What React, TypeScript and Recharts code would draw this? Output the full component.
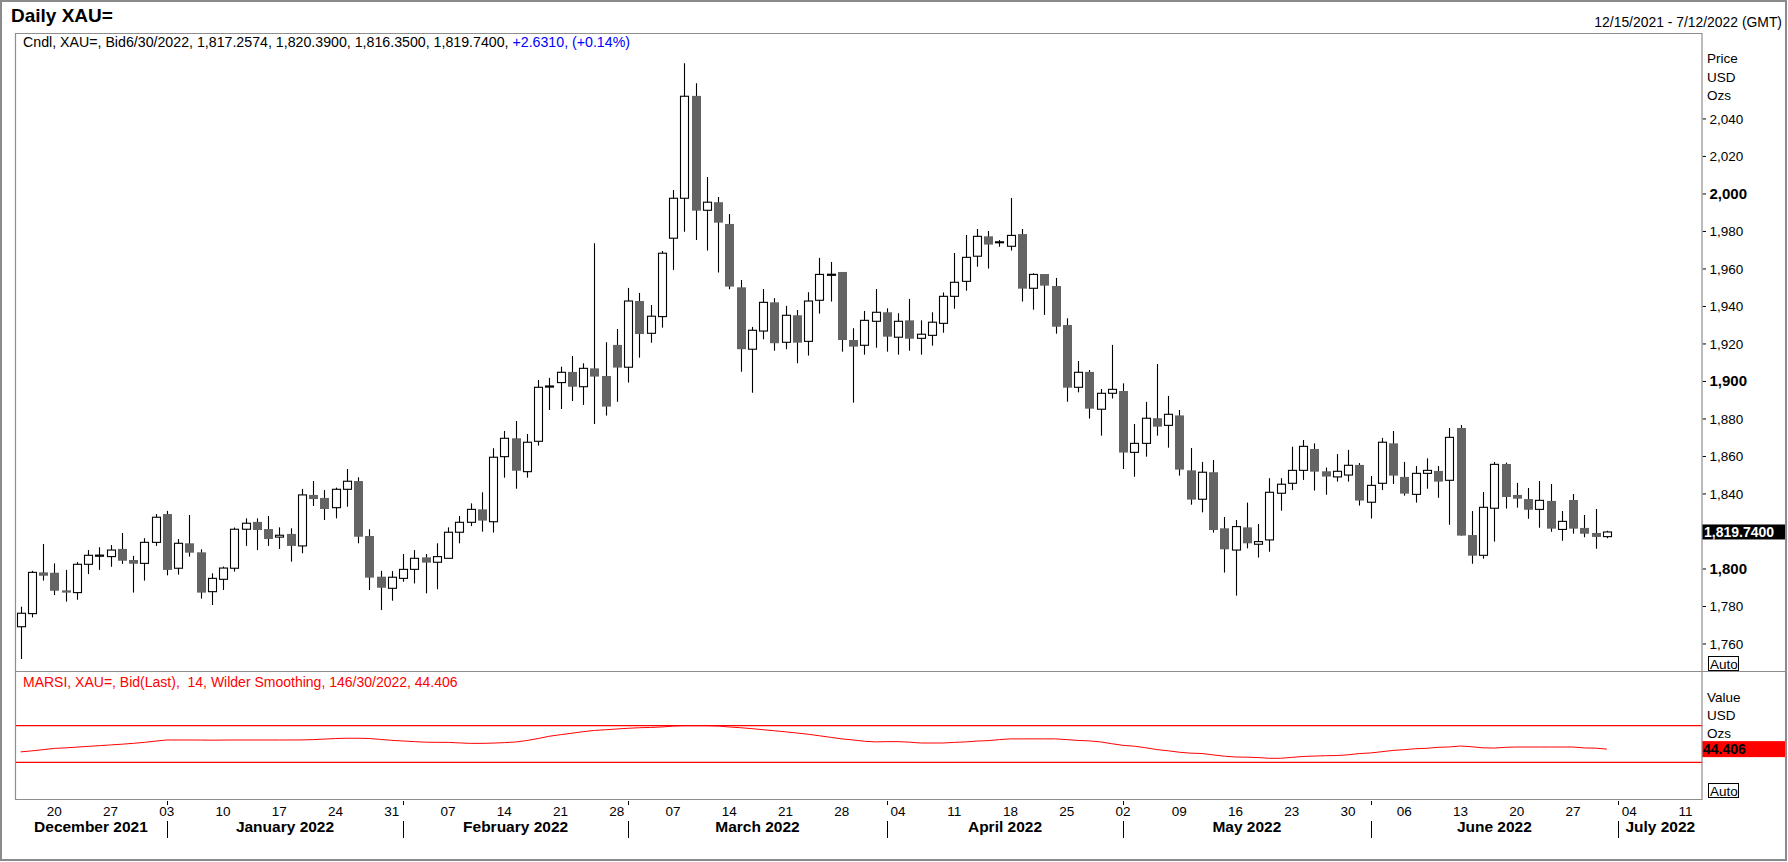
import React from "react";
import { ComposedChart, Bar, Line, XAxis, YAxis, ReferenceLine } from "recharts";

const FONT = '"Liberation Sans", Arial, Helvetica, sans-serif';

// Daily candles, 12/15/2021 .. 6/30/2022 (one entry per trading day)
const opens = [
  1769.2, 1776.2, 1798.2, 1798.0, 1788.6, 1787.4, 1802.5, 1806.8, 1806.6, 1810.7,
  1804.8, 1803.0, 1814.2, 1829.3, 1800.4, 1813.7, 1808.9, 1787.9, 1794.5, 1800.4,
  1821.2, 1825.1, 1821.3, 1817.0, 1818.7, 1812.3, 1839.5, 1837.9, 1832.7, 1842.5,
  1846.9, 1817.6, 1795.9, 1789.7, 1795.0, 1799.8, 1806.2, 1803.6, 1805.7, 1819.6,
  1824.9, 1831.8, 1825.2, 1859.9, 1869.7, 1851.9, 1868.1, 1897.0, 1899.4, 1905.1,
  1897.2, 1907.0, 1902.9, 1919.5, 1907.6, 1942.9, 1925.7, 1934.6, 1976.4, 1997.7,
  2052.3, 1991.3, 1995.6, 1984.0, 1950.2, 1917.2, 1926.9, 1942.2, 1920.9, 1935.3,
  1921.4, 1943.3, 1956.6, 1958.4, 1922.1, 1919.3, 1932.1, 1936.9, 1923.6, 1932.6,
  1923.0, 1924.6, 1931.0, 1945.4, 1953.4, 1966.8, 1977.4, 1974.2, 1972.1, 1978.6,
  1949.7, 1957.3, 1950.9, 1930.1, 1896.9, 1905.1, 1885.2, 1893.7, 1894.9, 1862.2,
  1867.0, 1880.4, 1876.6, 1881.9, 1852.6, 1837.2, 1851.6, 1821.7, 1810.1, 1822.2,
  1813.2, 1815.5, 1840.4, 1845.7, 1852.6, 1864.0, 1852.1, 1849.1, 1850.1, 1855.5,
  1835.6, 1845.7, 1867.0, 1849.1, 1839.8, 1851.0, 1852.3, 1847.3, 1875.2, 1818.1,
  1807.3, 1832.4, 1856.0, 1839.5, 1837.3, 1831.8, 1836.3, 1821.1, 1836.8, 1821.9,
  1819.2, 1817.2574,
];
const highs = [
  1779.9, 1799.0, 1813.3, 1803.0, 1799.5, 1803.7, 1810.1, 1811.6, 1812.8, 1819.2,
  1807.0, 1816.4, 1829.3, 1831.0, 1816.0, 1828.8, 1810.5, 1797.7, 1801.3, 1822.1,
  1827.0, 1827.0, 1828.3, 1822.2, 1821.7, 1842.7, 1846.9, 1842.1, 1843.4, 1853.3,
  1848.9, 1821.2, 1799.0, 1798.9, 1808.0, 1810.1, 1808.0, 1813.7, 1822.2, 1828.3,
  1835.0, 1840.9, 1864.4, 1873.6, 1878.9, 1872.0, 1900.8, 1901.9, 1907.9, 1913.6,
  1909.7, 1973.7, 1920.9, 1928.0, 1949.9, 1947.2, 1940.8, 1969.6, 2002.1, 2069.7,
  2059.0, 2009.1, 1998.4, 1989.3, 1954.1, 1929.1, 1949.3, 1944.4, 1940.3, 1938.1,
  1947.6, 1965.9, 1963.7, 1958.4, 1928.4, 1937.6, 1949.3, 1939.0, 1936.4, 1944.0,
  1932.6, 1936.9, 1947.5, 1968.5, 1978.1, 1981.3, 1980.3, 1975.5, 1997.9, 1981.3,
  1957.7, 1957.3, 1955.2, 1933.7, 1910.9, 1906.1, 1896.0, 1919.5, 1899.0, 1877.3,
  1889.1, 1909.3, 1892.3, 1884.8, 1864.5, 1857.1, 1858.1, 1827.7, 1826.1, 1835.4,
  1824.0, 1848.4, 1848.4, 1865.2, 1868.8, 1867.0, 1854.1, 1861.3, 1863.5, 1856.5,
  1849.6, 1869.9, 1873.6, 1857.1, 1854.9, 1859.0, 1854.9, 1875.2, 1876.8, 1830.9,
  1841.1, 1857.1, 1856.7, 1845.9, 1843.2, 1846.9, 1845.3, 1830.9, 1840.0, 1828.8,
  1832.0, 1820.39,
];
const lows = [
  1752.0, 1774.2, 1793.8, 1786.1, 1782.6, 1783.6, 1797.3, 1799.5, 1801.2, 1802.7,
  1787.4, 1793.8, 1812.3, 1796.6, 1797.0, 1806.6, 1784.2, 1780.8, 1788.8, 1798.6,
  1812.3, 1810.1, 1812.3, 1810.7, 1803.9, 1808.4, 1833.6, 1826.1, 1827.0, 1833.2,
  1813.7, 1788.8, 1778.1, 1783.1, 1793.2, 1792.3, 1787.0, 1789.2, 1805.7, 1813.7,
  1822.9, 1819.9, 1819.4, 1848.7, 1842.8, 1848.7, 1865.8, 1884.8, 1885.3, 1889.6,
  1887.5, 1877.3, 1881.8, 1889.2, 1899.4, 1912.7, 1920.7, 1928.7, 1959.5, 1979.9,
  1975.5, 1969.8, 1958.1, 1949.2, 1905.2, 1894.0, 1922.5, 1916.4, 1917.2, 1909.7,
  1913.8, 1936.2, 1942.6, 1915.9, 1888.7, 1914.3, 1918.0, 1915.9, 1914.3, 1916.4,
  1914.3, 1919.1, 1926.0, 1938.8, 1948.4, 1961.2, 1960.2, 1971.9, 1969.8, 1942.6,
  1938.3, 1935.5, 1925.5, 1889.2, 1894.2, 1880.2, 1871.1, 1890.9, 1853.3, 1849.2,
  1859.9, 1871.1, 1864.7, 1849.8, 1834.3, 1830.2, 1819.4, 1798.1, 1785.8, 1811.0,
  1806.1, 1809.2, 1831.1, 1842.1, 1847.5, 1841.8, 1839.6, 1846.6, 1846.6, 1833.8,
  1826.9, 1842.1, 1845.3, 1839.1, 1835.4, 1842.8, 1838.0, 1823.6, 1817.8, 1802.8,
  1805.5, 1814.6, 1832.2, 1832.7, 1826.8, 1822.0, 1819.9, 1815.1, 1818.8, 1816.9,
  1810.8, 1816.35,
];
const closes = [
  1776.4, 1798.2, 1796.4, 1788.4, 1787.4, 1802.5, 1807.3, 1807.4, 1810.1, 1804.4,
  1802.8, 1814.2, 1827.6, 1799.5, 1813.7, 1808.7, 1787.4, 1795.0, 1800.5, 1821.2,
  1824.4, 1820.8, 1816.0, 1818.0, 1812.3, 1839.5, 1837.3, 1832.0, 1842.5, 1846.8,
  1817.2, 1795.4, 1790.0, 1795.6, 1799.8, 1805.7, 1803.4, 1806.6, 1819.6, 1824.9,
  1831.8, 1825.8, 1859.6, 1869.7, 1852.4, 1867.6, 1896.9, 1897.6, 1904.9, 1897.2,
  1907.0, 1902.6, 1886.6, 1907.4, 1942.9, 1925.3, 1934.8, 1968.4, 1997.7, 2052.1,
  1991.1, 1995.6, 1984.7, 1950.6, 1917.2, 1927.3, 1942.2, 1920.4, 1935.3, 1920.7,
  1942.9, 1957.1, 1957.2, 1922.1, 1918.6, 1932.6, 1936.9, 1923.9, 1932.1, 1922.8,
  1925.2, 1931.6, 1945.4, 1952.9, 1966.2, 1977.4, 1973.0, 1974.5, 1977.9, 1949.5,
  1957.1, 1951.1, 1929.2, 1896.7, 1904.9, 1885.5, 1893.7, 1895.8, 1862.1, 1867.0,
  1880.4, 1875.9, 1882.5, 1853.0, 1837.0, 1851.6, 1820.8, 1810.5, 1822.6, 1813.7,
  1814.6, 1840.9, 1845.2, 1852.6, 1865.4, 1851.9, 1849.3, 1852.1, 1855.3, 1836.5,
  1844.6, 1867.6, 1849.8, 1840.2, 1851.0, 1852.6, 1846.6, 1870.2, 1817.8, 1807.1,
  1832.9, 1855.8, 1838.4, 1837.5, 1831.6, 1836.6, 1821.5, 1825.4, 1821.5, 1818.8,
  1817.1, 1819.74,
];
// MARSI (14, Wilder smoothing)
const rsiValues = [
  41.4, 42.5, 43.8, 45.2, 45.8, 46.6, 47.4, 48.2, 49.0, 49.8,
  50.7, 51.8, 53.2, 54.4, 54.4, 54.4, 54.3, 54.2, 54.3, 54.4,
  54.4, 54.4, 54.4, 54.4, 54.4, 54.5, 54.8, 55.4, 56.0, 56.3,
  56.3, 56.0, 55.0, 54.0, 53.3, 52.6, 52.0, 51.8, 51.8, 51.2,
  50.7, 50.7, 51.0, 51.5, 52.2, 53.8, 56.0, 58.5, 60.2, 61.8,
  63.5, 64.8, 65.6, 66.4, 67.2, 67.8, 68.1, 68.6, 69.6, 70.0,
  70.0, 70.0, 69.6, 68.6, 67.8, 66.8, 65.6, 64.5, 63.3, 62.0,
  60.7, 59.0, 57.3, 55.6, 54.4, 53.0, 52.3, 52.6, 52.6, 52.0,
  51.1, 51.1, 51.1, 51.8, 52.3, 53.2, 53.7, 54.8, 55.6, 55.6,
  55.6, 55.6, 55.6, 54.8, 53.9, 53.4, 52.3, 50.3, 48.5, 47.6,
  45.9, 43.9, 42.6, 41.0, 40.0, 39.6, 38.1, 36.7, 35.8, 35.6,
  35.2, 34.4, 34.4, 35.4, 36.4, 36.8, 37.2, 37.4, 38.2, 39.6,
  40.2, 41.6, 43.0, 43.8, 44.9, 45.3, 46.4, 46.8, 47.8, 47.0,
  45.8, 45.6, 46.4, 46.7, 46.7, 46.7, 46.7, 46.7, 46.7, 45.7,
  45.5, 44.406,
];

// Axis slots: trading days up to 7/12/2022
const TOTAL_SLOTS = 150;
const priceTicks = [1760, 1780, 1800, 1840, 1860, 1880, 1900, 1920, 1940, 1960, 1980, 2000, 2020, 2040];
const mondayIdx = [3, 8, 13, 18, 23, 28, 33, 38, 43, 48, 53, 58, 63, 68, 73, 78, 83, 88, 93, 98, 103, 108, 113, 118, 123, 128, 133, 138, 143, 148];
const mondayLabels = ["20", "27", "03", "10", "17", "24", "31", "07", "14", "21", "28", "07", "14", "21", "28", "04", "11", "18", "25", "02", "09", "16", "23", "30", "06", "13", "20", "27", "04", "11"];
const monthNames = ["December 2021", "January 2022", "February 2022", "March 2022", "April 2022", "May 2022", "June 2022", "July 2022"];
const monthCenters = [6.25, 23.5, 44, 65.5, 87.5, 109, 131, 145.75];
const monthStarts = [13, 34, 54, 77, 98, 120, 142];

const lastClose = closes[closes.length - 1];
const lastRsi = rsiValues[rsiValues.length - 1];

const rows = Array.from({ length: TOTAL_SLOTS }, (_, i) =>
  i < opens.length
    ? { i, open: opens[i], high: highs[i], low: lows[i], close: closes[i], rsi: rsiValues[i] }
    : { i, open: null, high: null, low: null, close: null, rsi: null }
);

const bottomTicks = Array.from(new Set([...mondayIdx, ...monthCenters, ...monthStarts])).sort((a, b) => a - b);

const fmt = (v: number) => v.toLocaleString("en-US");

const Candle = (props: any) => {
  const { x, y, width, height, payload } = props;
  if (!payload || payload.high == null || height == null || isNaN(y)) return null;
  const { open, close, high, low } = payload;
  const span = high - low || 1;
  const px = (v: number) => y + ((high - v) / span) * height;
  const cx = Math.round(x + width / 2) + 0.5;
  const up = close >= open;
  const top = px(Math.max(open, close));
  const bot = px(Math.min(open, close));
  const bh = Math.max(bot - top, 1);
  return (
    <g>
      <line x1={cx} x2={cx} y1={y} y2={y + height} stroke="#000" strokeWidth={1.1} />
      {up ? (
        <rect x={cx - 4} y={top} width={8} height={bh} fill="#fff" stroke="#000" strokeWidth={1.1} />
      ) : (
        <rect x={cx - 4.5} y={top} width={9} height={Math.max(bh, 1.5)} fill="#646464" />
      )}
    </g>
  );
};

const PriceTick = (props: any) => {
  const { x, y, payload } = props;
  const v = payload.value;
  if (v === lastClose) {
    return (
      <g>
        <rect x={1702} y={y - 7.5} width={83} height={15} fill="#000" />
        <text x={1704} y={y + 5} fontSize={14} fontWeight="bold" fill="#fff" fontFamily={FONT}>
          {v.toLocaleString("en-US", { minimumFractionDigits: 4 })}
        </text>
      </g>
    );
  }
  const bold = v % 100 === 0;
  return (
    <g>
      <line x1={1702.5} x2={1706} y1={y} y2={y} stroke="#000" strokeWidth={1} />
      <text x={x} y={y + 5} fontSize={bold ? 15 : 13.5} fontWeight={bold ? "bold" : "normal"} fill="#000" fontFamily={FONT}>
        {fmt(v)}
      </text>
    </g>
  );
};

const RsiTick = (props: any) => {
  const { y, payload } = props;
  return (
    <g>
      <rect x={1702} y={y - 8} width={83} height={16} fill="#ff0000" />
      <text x={1703} y={y + 5} fontSize={14} fontWeight="bold" fill="#000" fontFamily={FONT}>
        {payload.value.toFixed(3)}
      </text>
    </g>
  );
};

const BottomTick = (props: any) => {
  const { x, y, payload } = props;
  const v = payload.value;
  const els: any[] = [];
  const di = mondayIdx.indexOf(v);
  if (di >= 0)
    els.push(
      <text key="d" x={x} y={y + 17} textAnchor="middle" fontSize={13.5} fill="#000" fontFamily={FONT}>
        {mondayLabels[di]}
      </text>
    );
  const mi = monthCenters.indexOf(v);
  if (mi >= 0)
    els.push(
      <text key="m" x={x} y={y + 33} textAnchor="middle" fontSize={15.5} fontWeight="bold" fill="#000" fontFamily={FONT}>
        {monthNames[mi]}
      </text>
    );
  if (monthStarts.includes(v)) {
    const sx = Math.round(x) + 0.5;
    els.push(<line key="s1" x1={sx} x2={sx} y1={y + 2} y2={y + 6} stroke="#000" strokeWidth={1} />);
    els.push(<line key="s2" x1={sx} x2={sx} y1={y + 22} y2={y + 39} stroke="#000" strokeWidth={1} />);
  }
  return <g>{els}</g>;
};

const FRAME = "#8e8e8e";

export default function App() {
  return (
    <div style={{ position: "absolute", left: 0, top: 0, width: 1788, height: 862, background: "#fff", fontFamily: FONT }}>
      <div style={{ position: "absolute", left: 0, top: 0 }}>
        <ComposedChart width={1788} height={672} data={rows} margin={{ top: 34, right: 0, bottom: 1, left: 15 }}>
          <XAxis type="number" dataKey="i" domain={[-0.5, TOTAL_SLOTS - 0.5]} allowDataOverflow hide />
          <YAxis
            orientation="right"
            width={85.5}
            domain={[1745.6, 2085.3]}
            allowDataOverflow
            ticks={[...priceTicks, lastClose]}
            interval={0}
            axisLine={false}
            tickLine={false}
            tickSize={4}
            tickMargin={3}
            tick={PriceTick}
          />
          <Bar
            dataKey={(d: any) => (d.high == null ? null : [d.low, d.high])}
            barSize={9}
            shape={Candle}
            isAnimationActive={false}
          />
        </ComposedChart>
      </div>
      <div style={{ position: "absolute", left: 0, top: 672 }}>
        <ComposedChart width={1788} height={190} data={rows} margin={{ top: 0, right: 0, bottom: 0, left: 15 }}>
          <XAxis
            type="number"
            dataKey="i"
            domain={[-0.5, TOTAL_SLOTS - 0.5]}
            allowDataOverflow
            ticks={bottomTicks}
            interval={0}
            height={63}
            axisLine={false}
            tickLine={false}
            tickSize={0}
            tickMargin={0}
            tick={BottomTick}
          />
          <YAxis
            orientation="right"
            width={85.5}
            domain={[-10.1, 128.7]}
            allowDataOverflow
            ticks={[lastRsi]}
            interval={0}
            axisLine={false}
            tickLine={false}
            tickSize={0}
            tickMargin={0}
            tick={RsiTick}
          />
          <ReferenceLine y={70} stroke="#ff0000" strokeWidth={1.3} />
          <ReferenceLine y={30} stroke="#ff0000" strokeWidth={1.3} />
          <Line type="linear" dataKey="rsi" stroke="#ff0000" strokeWidth={1} dot={false} isAnimationActive={false} />
        </ComposedChart>
      </div>
      <svg width={1788} height={862} style={{ position: "absolute", left: 0, top: 0, pointerEvents: "none" }}>
        <rect x={1} y={1} width={1785} height={859} fill="none" stroke="#8a8a8a" strokeWidth={2} />
        <line x1={15} x2={1702.5} y1={33.5} y2={33.5} stroke={FRAME} strokeWidth={1.2} />
        <line x1={15.5} x2={15.5} y1={33.5} y2={799.5} stroke={FRAME} strokeWidth={1.2} />
        <line x1={1702} x2={1702} y1={33.5} y2={799.5} stroke={FRAME} strokeWidth={1.2} />
        <line x1={15} x2={1786} y1={671.5} y2={671.5} stroke={FRAME} strokeWidth={1.2} />
        <line x1={15} x2={1702.5} y1={799.5} y2={799.5} stroke={FRAME} strokeWidth={1.2} />

        <text x={11} y={22} fontSize={19} fontWeight="bold" fill="#000" fontFamily={FONT}>Daily XAU=</text>
        <text x={1782} y={27} fontSize={13.9} textAnchor="end" fill="#000" fontFamily={FONT}>12/15/2021 - 7/12/2022 (GMT)</text>
        <text x={23} y={46.5} fontSize={14.2} fill="#000" fontFamily={FONT} style={{ whiteSpace: "pre" }}>
          <tspan>Cndl, XAU=, Bid6/30/2022, 1,817.2574, 1,820.3900, 1,816.3500, 1,819.7400, </tspan>
          <tspan fill="#0000ff">+2.6310, (+0.14%)</tspan>
        </text>
        <text x={23} y={687} fontSize={14} fill="#ff0000" fontFamily={FONT} style={{ whiteSpace: "pre" }}>
          MARSI, XAU=, Bid(Last),  14, Wilder Smoothing, 146/30/2022, 44.406
        </text>

        <text x={1707} y={63} fontSize={13.5} fill="#000" fontFamily={FONT}>Price</text>
        <text x={1707} y={81.5} fontSize={13.5} fill="#000" fontFamily={FONT}>USD</text>
        <text x={1707} y={99.5} fontSize={13.5} fill="#000" fontFamily={FONT}>Ozs</text>
        <rect x={1708.5} y={656.5} width={30} height={14} fill="#fff" stroke="#000" strokeWidth={1} />
        <text x={1710} y={668.5} fontSize={13.5} fill="#000" fontFamily={FONT}>Auto</text>

        <text x={1707} y={702} fontSize={13.5} fill="#000" fontFamily={FONT}>Value</text>
        <text x={1707} y={720} fontSize={13.5} fill="#000" fontFamily={FONT}>USD</text>
        <text x={1707} y={738} fontSize={13.5} fill="#000" fontFamily={FONT}>Ozs</text>
        <rect x={1708.5} y={783.5} width={30} height={14} fill="#fff" stroke="#000" strokeWidth={1} />
        <text x={1710} y={795.5} fontSize={13.5} fill="#000" fontFamily={FONT}>Auto</text>
      </svg>
    </div>
  );
}
